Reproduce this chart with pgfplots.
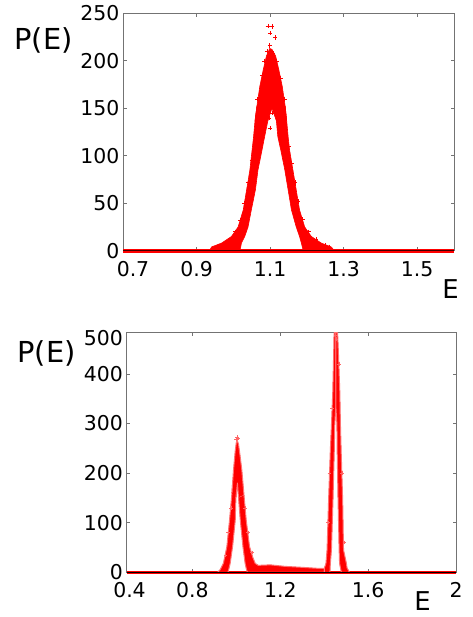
\documentclass[border=0pt]{standalone}
\usepackage{fontspec}
\setmainfont{DejaVu Sans}
\usepackage{pgfplots}
\pgfplotsset{compat=1.18}
\pgfplotsset{
  myax/.style={
    scale only axis,
    axis line style={draw=black!55, line width=0.9bp},
    tick style={draw=black!55, line width=0.7bp},
    major tick length=3.5bp,
    tick align=inside,
    tick pos=both,
    font=\fontsize{20.5}{24}\selectfont,
    /pgf/number format/assume math mode=true,
    xticklabel style={yshift=-7bp},
    clip=false,
  },
  band/.style={draw=red, fill=red, line width=0.6bp, line join=round},
  bandb/.style={draw=red!55, fill=red, line width=1.0bp, line join=round},
}
\begin{document}
\begin{tikzpicture}
\path (0,0) rectangle (473bp,617bp);
% ---------------- top panel ----------------
\begin{axis}[myax, at={(123bp,366.3bp)}, anchor=south west,
  width=331bp, height=237.4bp,
  xmin=0.7, xmax=1.6, ymin=0, ymax=250,
  xtick={0.9,1.1,1.3,1.5}, xticklabels={0.9,1.1,1.3,1.5},
  extra x ticks={0.7}, extra x tick labels={0.7},
  extra x tick style={xticklabel style={xshift=10bp}},
  ytick={0,50,100,150,200,250}]
\addplot[red, line width=4bp] coordinates {(0.7,0) (1.6,0)};
% left flank
\addplot[band] coordinates {
(0.935,0)(0.941,4)(0.968,8)(0.995,15)(1.013,25)(1.027,43)(1.036,64)(1.045,85)
(1.051,106)(1.055,120)(1.059,137)(1.064,152)(1.100,152)(1.094,137)
(1.085,120)(1.078,106)(1.067,85)(1.060,64)(1.049,43)(1.040,25)(1.031,15)
(1.022,8)(1.018,0)};
% right flank
\addplot[band] coordinates {
(1.275,0)(1.266,4)(1.239,8)(1.212,15)(1.194,25)(1.180,43)(1.171,64)(1.162,85)
(1.153,106)(1.149,120)(1.145,137)(1.141,152)(1.110,152)(1.117,137)(1.121,120)
(1.129,106)(1.140,85)(1.149,64)(1.158,43)(1.171,25)(1.180,15)(1.185,8)(1.190,0)};
% top cap
\addplot[band] coordinates {
(1.059,137)(1.064,152)(1.072,173)(1.081,190)(1.090,205)(1.099,213)(1.105,212)
(1.115,205)(1.124,190)(1.133,173)(1.141,152)(1.145,137)(1.117,137)(1.105,150)
(1.094,137)};
\addplot[only marks, mark=+, mark size=2.2bp, red, line width=0.5bp] coordinates {
(1.094,236.6)(1.105,236)(1.100,229)(1.114,224.7)(1.099,216)
(1.050,95)(1.040,72)(1.030,50)(1.020,32)(1.005,20)(0.985,11)(0.960,5)(0.950,3)
(1.150,110)(1.158,92)(1.168,72)(1.176,52)(1.188,33)(1.205,20)(1.225,12)(1.250,6)(1.260,4)
(1.085,200)(1.118,200)(1.092,210)(1.108,208)(1.078,185)(1.128,182)
(1.100,129)(1.097,140)(1.107,145)(1.066,160)(1.139,160)};
\addplot[black!75!red, line width=1.6bp] coordinates {(0.7,0) (1.6,0)};
\end{axis}
% ---------------- bottom panel ----------------
\begin{axis}[myax, at={(126.5bp,44.7bp)}, anchor=south west,
  width=329.5bp, height=239.6bp,
  xmin=0.5, xmax=2, ymin=0, ymax=483,
  xtick={0.8,1.2,1.6,2}, xticklabels={0.8,1.2,1.6,2},
  extra x ticks={0.5}, extra x tick labels={0.4},
  extra x tick style={xticklabel style={xshift=3bp}},
  ytick={0,100,200,300,400},
  extra y ticks={483}, extra y tick labels={500},
  extra y tick style={yticklabel style={yshift=-5bp}}]
\addplot[red, line width=3.5bp] coordinates {(0.5,0) (2,0)};
% peak 1 left flank
\addplot[bandb] coordinates {
(0.915,0)(0.926,5)(0.941,18)(0.957,52)(0.969,105)(0.980,160)(0.984,185)
(1.005,180)(0.998,150)(0.995,105)(0.983,52)(0.972,18)(0.965,5)(0.962,0)};
% peak 1 cap
\addplot[bandb] coordinates {
(0.980,160)(0.987,206)(0.995,245)(1.000,262)(1.004,266)(1.010,258)(1.017,235)
(1.025,206)(1.035,155)(1.010,150)(1.005,180)(0.998,150)};
% peak 1 right flank and low bump
\addplot[bandb] coordinates {
(1.035,155)(1.045,105)(1.060,52)(1.075,30)(1.086,18)(1.100,14)(1.155,15)
(1.220,12)(1.300,10)(1.370,8)(1.401,8)(1.401,0)(1.050,0)(1.045,8)(1.040,18)
(1.030,52)(1.018,105)(1.010,150)};
% peak 2 left flank
\addplot[bandb] coordinates {
(1.401,0)(1.401,9)(1.408,18)(1.413,45)(1.420,146)(1.428,247)(1.433,297)
(1.439,364)(1.443,440)(1.445,483)(1.453,483)(1.453,335)(1.448,297)(1.446,247)
(1.440,146)(1.433,45)(1.428,18)(1.426,0)};
% peak 2 right flank
\addplot[bandb] coordinates {
(1.515,0)(1.504,9)(1.501,18)(1.488,45)(1.484,146)(1.477,247)(1.474,297)
(1.471,364)(1.465,440)(1.461,483)(1.453,483)(1.453,335)(1.458,297)(1.459,247)
(1.463,146)(1.468,45)(1.470,18)(1.478,0)};
\addplot[only marks, mark=+, mark size=1.8bp, red!60, line width=0.4bp] coordinates {
(1.003,273)(0.999,268)(1.007,270)(1.451,478)(1.456,470)
(0.950,35)(0.962,80)(0.975,130)(1.040,130)(1.052,80)(1.070,40)
(1.416,100)(1.424,200)(1.436,330)(1.468,420)(1.480,200)(1.492,60)};
\addplot[black, line width=0.9bp] coordinates {(0.5,0) (2,0)};
\end{axis}
% ---------------- labels ----------------
\node[inner sep=0, font=\fontsize{29}{30}\selectfont] at (43.5bp,577bp) {P(E)};
\node[inner sep=0, font=\fontsize{26}{28}\selectfont] at (450.5bp,327.5bp) {E};
\node[inner sep=0, font=\fontsize{29}{30}\selectfont] at (46.5bp,263.5bp) {P(E)};
\node[inner sep=0, font=\fontsize{26}{28}\selectfont] at (422.5bp,15.5bp) {E};
\end{tikzpicture}
\end{document}
